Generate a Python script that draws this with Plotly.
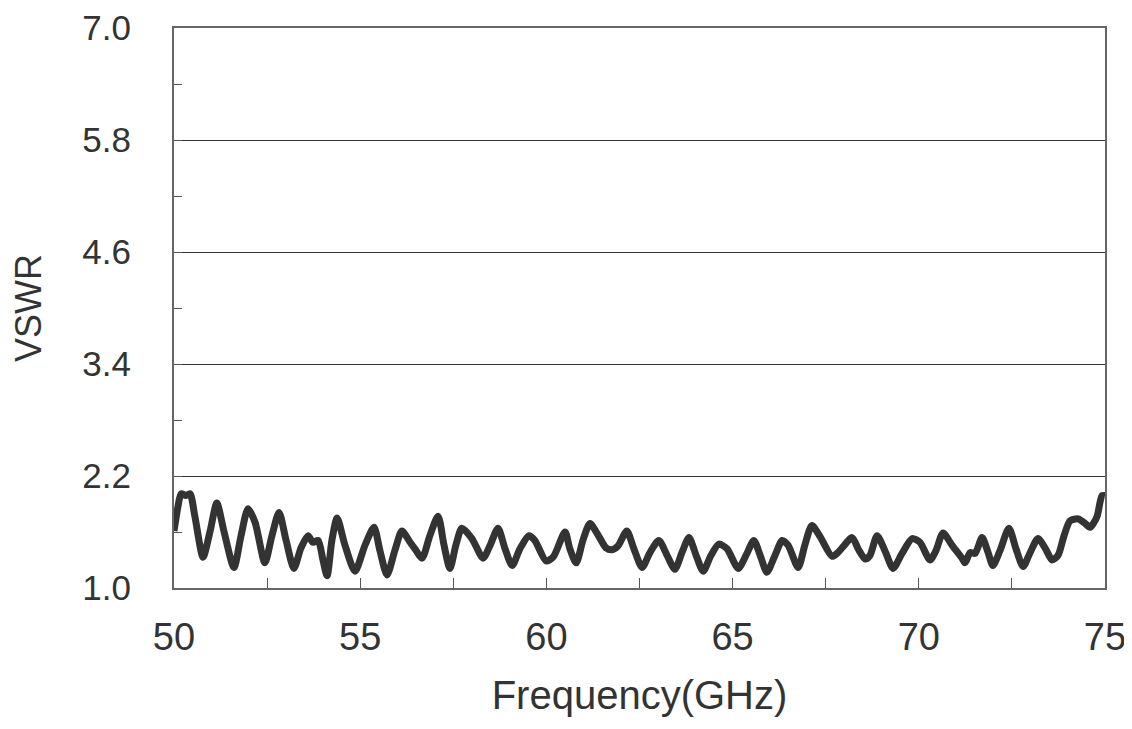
import plotly.graph_objects as go

freq_ghz = [
    50.00, 50.11, 50.19, 50.32, 50.43, 50.56, 50.78, 50.97, 51.15, 51.34,
    51.61, 51.80, 51.99, 52.18, 52.44, 52.63, 52.82, 53.01, 53.22, 53.41,
    53.60, 53.73, 53.87, 54.00, 54.11, 54.24, 54.38, 54.59, 54.86, 55.13,
    55.37, 55.53, 55.72, 55.93, 56.12, 56.34, 56.47, 56.66, 56.87, 57.09,
    57.25, 57.41, 57.57, 57.73, 58.00, 58.30, 58.49, 58.70, 58.89, 59.08,
    59.29, 59.53, 59.69, 59.99, 60.18, 60.50, 60.63, 60.80, 60.98, 61.17,
    61.44, 61.60, 61.76, 61.92, 62.16, 62.35, 62.57, 62.78, 63.02, 63.24,
    63.45, 63.64, 63.83, 64.02, 64.21, 64.42, 64.63, 64.85, 65.15, 65.36,
    65.57, 65.74, 65.92, 66.14, 66.33, 66.49, 66.76, 66.94, 67.13, 67.35,
    67.67, 67.83, 68.21, 68.37, 68.56, 68.69, 68.88, 69.09, 69.31, 69.55,
    69.82, 70.03, 70.30, 70.46, 70.65, 70.89, 71.16, 71.24, 71.38, 71.51,
    71.70, 71.86, 71.99, 72.18, 72.42, 72.61, 72.80, 72.99, 73.20, 73.39,
    73.58, 73.74, 73.90, 74.06, 74.28, 74.44, 74.60, 74.70, 74.79, 74.92,
    75.00,
]

vswr = [
    1.61, 1.88, 2.01, 1.99, 2.01, 1.77, 1.33, 1.61, 1.91, 1.61,
    1.22, 1.56, 1.85, 1.70, 1.27, 1.56, 1.81, 1.51, 1.21, 1.43,
    1.56, 1.49, 1.51, 1.30, 1.13, 1.51, 1.75, 1.46, 1.18, 1.46,
    1.65, 1.40, 1.14, 1.40, 1.61, 1.49, 1.42, 1.32, 1.56, 1.77,
    1.46, 1.21, 1.46, 1.64, 1.53, 1.32, 1.46, 1.64, 1.42, 1.24,
    1.42, 1.56, 1.51, 1.29, 1.33, 1.60, 1.42, 1.27, 1.51, 1.69,
    1.53, 1.43, 1.41, 1.45, 1.61, 1.42, 1.22, 1.38, 1.51, 1.35,
    1.20, 1.38, 1.54, 1.35, 1.18, 1.35, 1.47, 1.42, 1.21, 1.35,
    1.51, 1.35, 1.17, 1.35, 1.51, 1.46, 1.22, 1.46, 1.67, 1.55,
    1.34, 1.38, 1.54, 1.42, 1.31, 1.35, 1.56, 1.40, 1.21, 1.37,
    1.53, 1.49, 1.30, 1.40, 1.59, 1.46, 1.32, 1.27, 1.38, 1.37,
    1.54, 1.38, 1.24, 1.40, 1.64, 1.42, 1.23, 1.38, 1.53, 1.43,
    1.30, 1.35, 1.56, 1.72, 1.74, 1.70, 1.65, 1.70, 1.77, 1.99,
    1.99,
]

x_ticks = [50, 55, 60, 65, 70, 75]
y_ticks = [1.0, 2.2, 3.4, 4.6, 5.8, 7.0]

FONT = "Liberation Sans, Arial, sans-serif"

fig = go.Figure()
fig.add_trace(go.Scatter(
    x=freq_ghz, y=vswr, mode="lines",
    line=dict(color="#333333", width=7, shape="spline", smoothing=0.7),
    showlegend=False, hoverinfo="skip", cliponaxis=True,
))

fig.update_layout(
    width=1124, height=721,
    margin=dict(l=166, r=27, t=20, b=141),
    paper_bgcolor="white", plot_bgcolor="white",
    font=dict(family=FONT, color="#333333"),
)

fig.update_xaxes(
    range=[50, 75], automargin=False,
    tickvals=x_ticks, ticktext=[str(v) for v in x_ticks],
    ticks="inside", ticklen=10, tickwidth=1.2, tickcolor="#555555",
    minor=dict(dtick=2.5, tick0=50, ticks="inside", ticklen=10,
               tickwidth=1.2, tickcolor="#555555", showgrid=False),
    showgrid=False, zeroline=False,
    showline=True, linecolor="#666666", linewidth=2, mirror=True,
    tickfont=dict(size=38, family=FONT, color="#333333"),
    ticklabelstandoff=14, ticklabeloverflow="allow",
    title=dict(text="Frequency(GHz)", font=dict(size=40, family=FONT, color="#333333"),
               standoff=24),
)

fig.update_yaxes(
    range=[1.0, 7.0], automargin=False,
    tickvals=y_ticks, ticktext=["%.1f" % v for v in y_ticks],
    ticks="inside", ticklen=8, tickwidth=1.2, tickcolor="#555555",
    minor=dict(dtick=0.6, tick0=1.0, ticks="inside", ticklen=8,
               tickwidth=1.2, tickcolor="#555555", showgrid=False),
    showgrid=True, gridcolor="#333333", gridwidth=1.2,
    zeroline=False,
    showline=True, linecolor="#666666", linewidth=2, mirror=True,
    tickfont=dict(size=35, family=FONT, color="#333333"),
    ticklabelstandoff=34, ticklabeloverflow="allow",
    title=dict(text="VSWR", font=dict(size=36, family=FONT, color="#333333"),
               standoff=30),
)

fig.write_html("out.html")
